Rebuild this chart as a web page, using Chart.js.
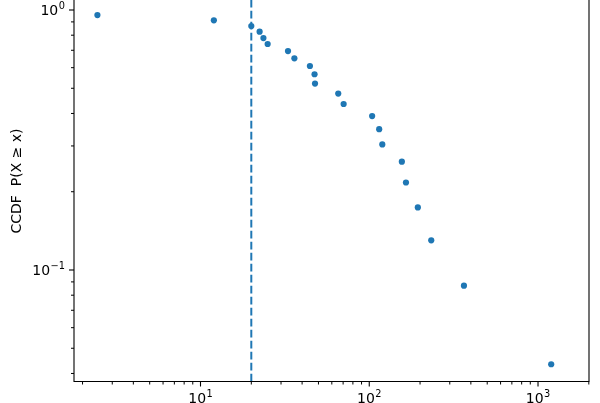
<!DOCTYPE html>
<html>
<head>
<meta charset="UTF-8">
<title>CCDF</title>
<script src="https://cdn.jsdelivr.net/npm/chart.js"></script>
<style>
  body { margin: 0; background: #fff; }
  canvas { display: block; }
</style>
</head>
<body>
<canvas id="ccdfChart" width="600" height="403"></canvas>
<script>
  // values (x = value, y = P(X >= x))
  const xValues = [2.45, 12, 20, 22.4, 23.6, 25, 33, 36, 44.5, 47.4, 47.7, 65.5, 70.5,
                   104, 114.5, 119.5, 156, 165, 194, 233, 364, 1197];
  const yValues = [0.956, 0.913, 0.868, 0.825, 0.780, 0.740, 0.695, 0.652, 0.609, 0.566,
                   0.521, 0.477, 0.435, 0.391, 0.348, 0.304, 0.261, 0.217, 0.174, 0.130,
                   0.087, 0.0434];
  const xMinCut = 20;

  // axis limits and ticks (labels are 10 to the power shown)
  const xLimits = [1.78, 2005];
  const yLimits = [0.03725, 1.0926];
  const xMajorTicks = [10, 100, 1000];
  const xTickExps = ['1', '2', '3'];
  const xMinorTicks = [2, 3, 4, 5, 6, 7, 8, 9, 20, 30, 40, 50, 60, 70, 80, 90,
                       200, 300, 400, 500, 600, 700, 800, 900, 2000];
  const yMajorTicks = [0.1, 1];
  const yTickExps = ['\u22121', '0'];
  const yMinorTicks = [0.04, 0.05, 0.06, 0.07, 0.08, 0.09,
                       0.2, 0.3, 0.4, 0.5, 0.6, 0.7, 0.8, 0.9];
  const yLabel = 'CCDF  P(X \u2265 x)';

  const blue = '#1f77b4';
  const baseFont = "14px 'DejaVu Sans'";
  const supFont = "9.8px 'DejaVu Sans'";

  Chart.defaults.font.family = "'DejaVu Sans', sans-serif";
  Chart.defaults.font.size = 14;
  Chart.defaults.color = '#000';

  // "10" with a raised exponent, like matplotlib's log labels
  function drawPow(ctx, exp, x, baseline, align) {
    ctx.font = baseFont;
    const wb = ctx.measureText('10').width;
    ctx.font = supFont;
    const we = ctx.measureText(exp).width;
    const total = wb + 0.5 + we;
    const left = align === 'center' ? x - total / 2 : x - total;
    ctx.textAlign = 'left';
    ctx.textBaseline = 'alphabetic';
    ctx.font = baseFont;
    ctx.fillText('10', left, baseline);
    ctx.font = supFont;
    ctx.fillText(exp, left + wb + 0.5, baseline - 6.6);
  }

  // spines, tick marks, tick labels and the y label
  const axisDecor = {
    id: 'axisDecor',
    afterDraw(chart) {
      const { ctx, chartArea: a, scales: { x, y } } = chart;
      ctx.save();
      ctx.strokeStyle = '#000';
      ctx.fillStyle = '#000';
      ctx.lineWidth = 1.1;
      ctx.beginPath();
      ctx.moveTo(a.left, 0); ctx.lineTo(a.left, a.bottom);
      ctx.lineTo(a.right, a.bottom); ctx.lineTo(a.right, 0);
      ctx.stroke();

      const xTick = (v, len) => {
        const px = x.getPixelForValue(v);
        if (px < a.left - 0.5 || px > a.right + 0.5) return;
        ctx.beginPath(); ctx.moveTo(px, a.bottom); ctx.lineTo(px, a.bottom + len); ctx.stroke();
      };
      const yTick = (v, len) => {
        const py = y.getPixelForValue(v);
        if (py < a.top - 0.5 || py > a.bottom + 0.5) return;
        ctx.beginPath(); ctx.moveTo(a.left, py); ctx.lineTo(a.left - len, py); ctx.stroke();
      };
      ctx.lineWidth = 1;
      xMinorTicks.forEach(v => xTick(v, 3));
      yMinorTicks.forEach(v => yTick(v, 3));
      ctx.lineWidth = 1.1;
      xMajorTicks.forEach(v => xTick(v, 5));
      yMajorTicks.forEach(v => yTick(v, 5));

      xMajorTicks.forEach((v, i) => {
        drawPow(ctx, xTickExps[i], x.getPixelForValue(v), a.bottom + 21.8, 'center');
      });
      yMajorTicks.forEach((v, i) => {
        drawPow(ctx, yTickExps[i], a.left - 9, y.getPixelForValue(v) + 5.5, 'right');
      });

      ctx.translate(17.5, 181);
      ctx.rotate(-Math.PI / 2);
      ctx.font = baseFont;
      ctx.textAlign = 'center';
      ctx.textBaseline = 'middle';
      ctx.fillText(yLabel, 0, 0);
      ctx.restore();
    }
  };

  new Chart(document.getElementById('ccdfChart'), {
    type: 'scatter',
    data: {
      datasets: [
        {
          label: 'CCDF',
          data: xValues.map((v, i) => ({ x: v, y: yValues[i] })),
          backgroundColor: blue,
          borderWidth: 0,
          pointRadius: 3.1,
          order: 1
        },
        {
          label: 'xmin',
          type: 'line',
          data: [{ x: xMinCut, y: yLimits[0] }, { x: xMinCut, y: yLimits[1] }],
          borderColor: blue,
          borderWidth: 2,
          borderDash: [7.7, 3.3],
          pointRadius: 0,
          fill: false,
          order: 2
        }
      ]
    },
    options: {
      responsive: false,
      animation: false,
      devicePixelRatio: 1,
      layout: { autoPadding: false, padding: { top: 0, right: 11, left: 0, bottom: 0 } },
      plugins: {
        legend: { display: false },
        tooltip: { enabled: false }
      },
      scales: {
        x: {
          type: 'logarithmic',
          min: xLimits[0],
          max: xLimits[1],
          border: { display: false },
          grid: { display: false, drawTicks: false },
          afterBuildTicks: s => { s.ticks = xMajorTicks.map(v => ({ value: v })); },
          afterFit: s => { s.height = 21.5; s.paddingLeft = 0; s.paddingRight = 0; },
          ticks: { display: false }
        },
        y: {
          type: 'logarithmic',
          min: yLimits[0],
          max: yLimits[1],
          border: { display: false },
          grid: { display: false, drawTicks: false },
          afterBuildTicks: s => { s.ticks = yMajorTicks.map(v => ({ value: v })); },
          afterFit: s => { s.width = 74; s.paddingTop = 0; s.paddingBottom = 0; },
          ticks: { display: false }
        }
      }
    },
    plugins: [axisDecor]
  });
</script>
</body>
</html>
